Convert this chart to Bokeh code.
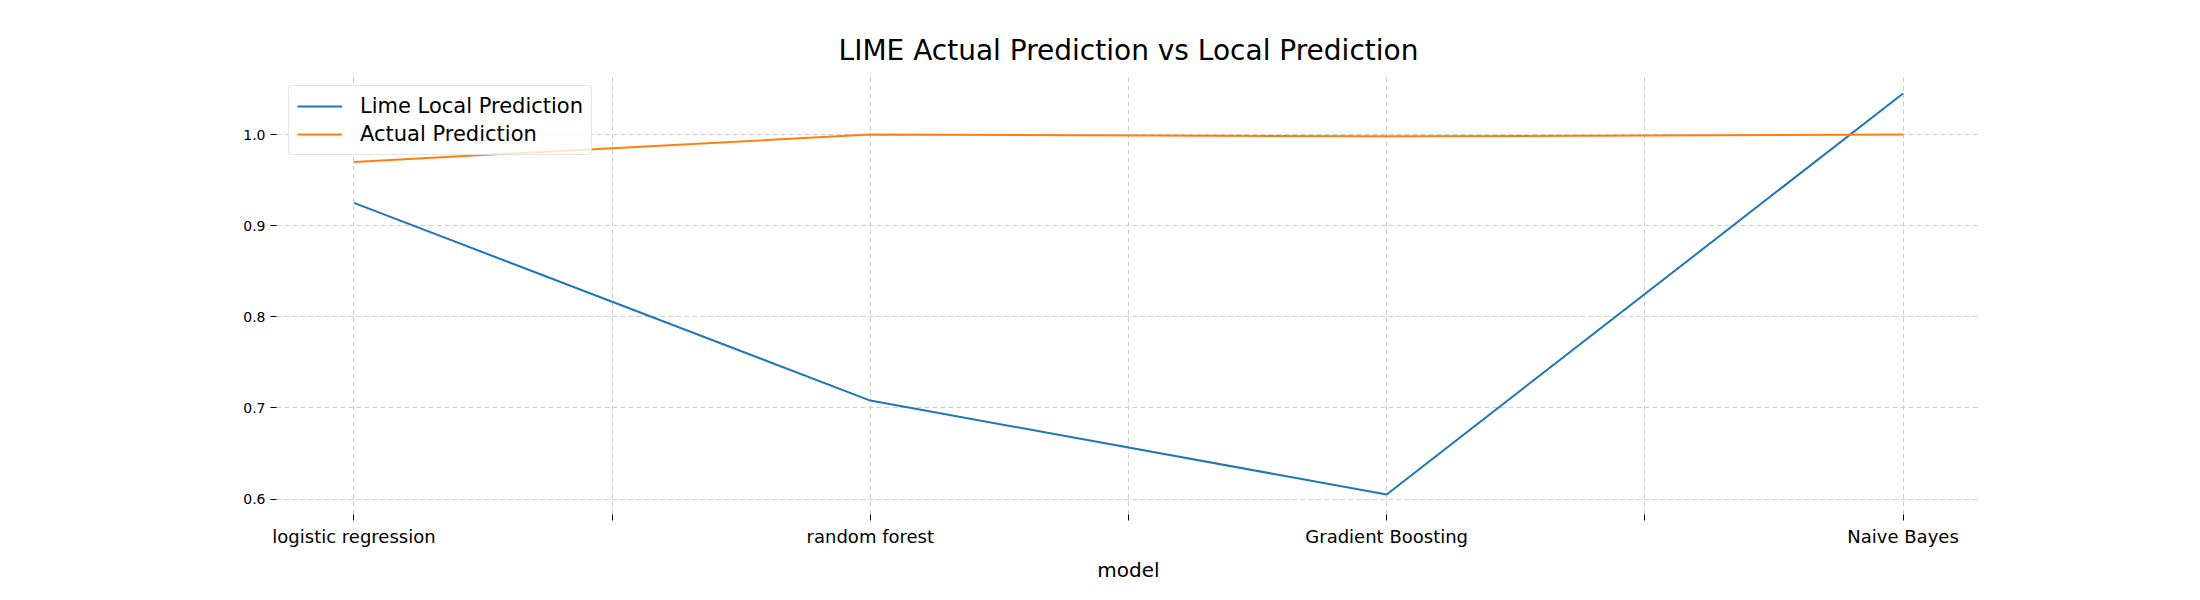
from bokeh.plotting import figure
from bokeh.models import FixedTicker, Range1d, NumeralTickFormatter
from bokeh.embed import file_html
from bokeh.resources import INLINE

models = ["logistic regression", "random forest", "Gradient Boosting", "Naive Bayes"]
lime_local = [0.925, 0.708, 0.605, 1.045]
actual = [0.970, 1.000, 0.998, 1.000]
y_ticks = [0.6, 0.7, 0.8, 0.9, 1.0]

xs = list(range(len(models)))

p = figure(width=2184, height=584, output_backend="svg", toolbar_location=None,
           title="LIME Actual Prediction vs Local Prediction",
           x_range=Range1d(-0.15, 3.15), y_range=Range1d(0.583, 1.067),
           min_border_left=276, min_border_right=204, min_border_top=73, min_border_bottom=50)

p.line(xs, lime_local, line_color="#1f77b4", line_width=2, legend_label="Lime Local Prediction")
p.line(xs, actual, line_color="#ff7f0e", line_width=2, legend_label="Actual Prediction")

p.title.align = "center"
p.title.text_font = "DejaVu Sans"
p.title.text_font_size = "28px"
p.title.text_font_style = "normal"
p.title.text_color = "black"
p.title.standoff = 14

p.outline_line_color = None
for ax in (p.xaxis, p.yaxis):
    ax.axis_line_color = None
    ax.major_tick_in = 0
    ax.major_tick_out = 6
    ax.minor_tick_line_color = None
    ax.major_label_text_font = "DejaVu Sans"
    ax.major_label_text_color = "black"
    ax.major_tick_line_color = "black"

p.xaxis.ticker = FixedTicker(ticks=[0, 0.5, 1, 1.5, 2, 2.5, 3])
p.xaxis.major_label_overrides = {0: models[0], 0.5: "", 1: models[1], 1.5: "",
                                 2: models[2], 2.5: "", 3: models[3]}
p.xaxis.major_label_text_font_size = "18px"
p.xaxis.axis_label = "model"
p.xaxis.axis_label_text_font = "DejaVu Sans"
p.xaxis.axis_label_text_font_size = "20px"
p.xaxis.axis_label_text_font_style = "normal"
p.xaxis.axis_label_text_color = "black"
p.xaxis.axis_label_standoff = 8

p.yaxis.ticker = FixedTicker(ticks=y_ticks)
p.yaxis.formatter = NumeralTickFormatter(format="0.0")
p.yaxis.major_label_text_font_size = "14px"

p.grid.grid_line_color = "#cccccc"
p.grid.grid_line_dash = "5 3"
p.grid.grid_line_width = 1

p.legend.location = "top_left"
p.legend.label_text_font = "DejaVu Sans"
p.legend.label_text_font_size = "21px"
p.legend.label_text_color = "black"
p.legend.border_line_color = "#cccccc"
p.legend.border_radius = 4
p.legend.background_fill_alpha = 0.8
p.legend.glyph_width = 45
p.legend.label_standoff = 18
p.legend.spacing = 4
p.legend.margin = 12
p.legend.padding = 8

open("out.html", "w").write(file_html(p, INLINE))
